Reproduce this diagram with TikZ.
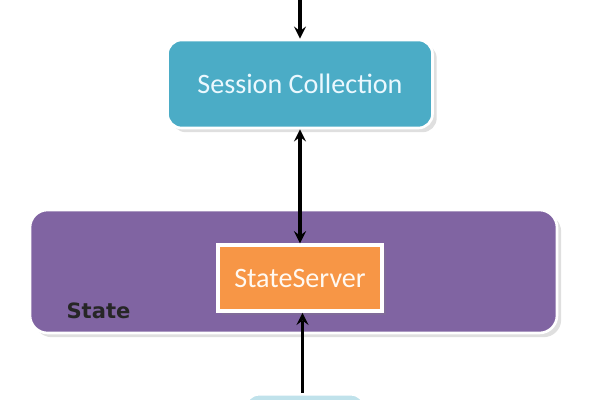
\documentclass[tikz,border=0pt]{standalone}
\usepackage{fontspec}
\setmainfont{Carlito}
\newfontfamily\labelfont{DejaVu Sans}
\usepackage{xcolor}
\usepackage{tikz}
\usetikzlibrary{shapes.geometric, arrows, positioning, shadows, calc}
\definecolor{sessblue}{HTML}{4BACC6}
\definecolor{statepurple}{HTML}{8064A2}
\definecolor{serverorange}{HTML}{F79646}
\tikzstyle{store} = [rectangle, rounded corners=8pt, minimum width=5.3cm, minimum height=1.76cm, text centered, draw=white, line width=1.5pt, fill=sessblue, text=cyan!8, font=\fontsize{16}{18}\selectfont, drop shadow={opacity=0.25}]
\tikzstyle{container} = [rectangle, rounded corners=10pt, minimum width=10.54cm, minimum height=2.46cm, draw=white, line width=1.5pt, fill=statepurple, drop shadow={opacity=0.25}]
\tikzstyle{process} = [rectangle, minimum width=3.28cm, minimum height=1.32cm, text centered, draw=white, line width=2pt, fill=serverorange, text=orange!5, font=\fontsize{16}{18}\selectfont, drop shadow={opacity=0.25}]
\tikzstyle{arrow} = [line width=2pt,->,>=stealth]

\begin{document}
\begin{tikzpicture}
    \useasboundingbox (0,0) rectangle (12,8);
    % Session store
    \node[store] (session) at (6.0,6.32) {Session Collection};
    \coordinate (incoming) at (6.0,8);

    % State mode
    \node[container] (state) at (5.87,2.57) {};
    \node[font=\labelfont\fontsize{12}{14}\selectfont\bfseries, text=black!85] (statelabel) at (1.97,1.78) {State};
    \node[process, below=2.28cm of session] (server) {StateServer};

    % Source below
    \node[rectangle, rounded corners=8pt, minimum width=2.4cm, minimum height=1.5cm, draw=white, line width=1.5pt, fill=sessblue!35, anchor=north] (source) at (6.1,0.14) {};

    % Connections
    \draw[arrow] (incoming) -- (session);
    \draw[arrow, <->] (session) -- (server);
    \draw[arrow] (source.north -| 6.05,0) -- (server.south -| 6.05,0);
\end{tikzpicture}
\end{document}
